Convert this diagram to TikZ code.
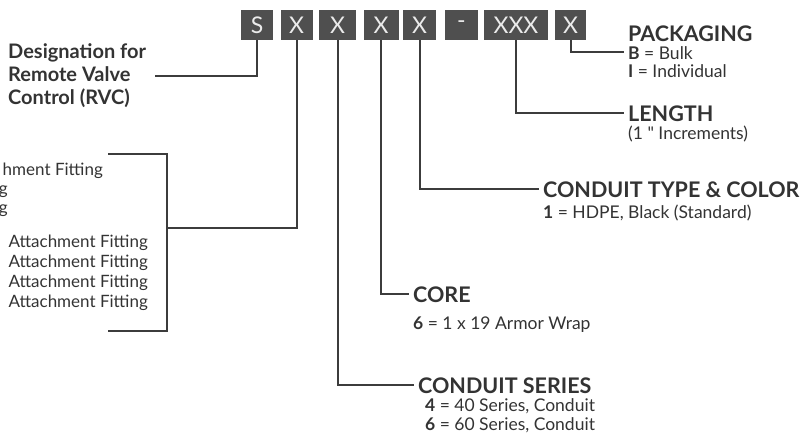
\documentclass[tikz,border=0pt]{standalone}
\usepackage{fontspec}
\setmainfont{Lato}
\definecolor{txt}{HTML}{333333}
\definecolor{linec}{HTML}{3C3C3C}
\definecolor{boxc}{HTML}{4F4F4F}
\definecolor{boxtext}{HTML}{EBEBEB}
\begin{document}
\begin{tikzpicture}[x=1pt,y=-1pt,
  conn/.style={draw=linec, line width=2pt},
  codebox/.style={fill=boxc, minimum height=30pt, inner sep=0pt, text=boxtext, font=\fontsize{23}{23}\selectfont},
  head/.style={anchor=base west, inner sep=0pt, text=txt, font=\fontsize{21.5}{21.5}\selectfont\bfseries},
  body/.style={anchor=base west, inner sep=0pt, text=txt, font=\fontsize{17.5}{17.5}\selectfont},
  lhead/.style={anchor=west, inner sep=0pt, text=txt, align=left, font=\fontsize{20}{23}\selectfont\bfseries},
  lbody/.style={anchor=base east, inner sep=0pt, text=txt, font=\fontsize{17}{17}\selectfont},
]
\useasboundingbox (0,0) rectangle (801,442);
\path[clip] (0,0) rectangle (801,442);
% code boxes
\node[codebox, minimum width=32pt] (bS) at (257,25) {S};
\node[codebox, minimum width=32pt] (b1) at (296.5,25) {X};
\node[codebox, minimum width=37pt] (b2) at (337.5,25) {X};
\node[codebox, minimum width=35pt] (b3) at (381,25) {X};
\node[codebox, minimum width=33pt] (b4) at (419.5,25) {X};
\node[codebox, minimum width=33pt] (bd) at (461.5,25) {-};
\node[codebox, minimum width=64pt] (bl) at (516,25) {XXX};
\node[codebox, minimum width=31pt] (bp) at (570.5,25) {X};
% designation
\node[lhead] (desig) at (8,76) {Designation for\\Remote Valve\\Control (RVC)};
\coordinate (dend) at (155,76);
\draw[conn] (dend) -| (bS.south);
% left list
\node[lbody] (l1) at (103,175) {hment Fitting};
\node[lbody] (l2) at (8,194) {g};
\node[lbody] (l3) at (8,213) {g};
\node[lbody] (l4) at (148,247) {Attachment Fitting};
\node[lbody] (l5) at (148,267) {Attachment Fitting};
\node[lbody] (l6) at (148,287) {Attachment Fitting};
\node[lbody] (l7) at (148,307) {Attachment Fitting};
\coordinate (brt) at (108,154);
\coordinate (brb) at (108,331);
\coordinate (brm) at (167,228);
\draw[conn] (brt) -- (brt -| brm) -- (brb -| brm) -- (brb);
\draw[conn] (b1.south) |- (brm);
% packaging
\node[head] (pk) at (628,41) {PACKAGING};
\node[body] (pk1) at (628,59) {\textbf{B} = Bulk};
\node[body] (pk2) at (628,77) {\textbf{I} = Individual};
\coordinate (pkend) at (624,52);
\draw[conn] (bp.south) |- (pkend);
% length
\node[head] (len) at (628,121) {LENGTH};
\node[body] (len1) at (628,139) {(1 \textquotedbl{} Increments)};
\coordinate (lenend) at (624,113);
\draw[conn] (bl.south) |- (lenend);
% conduit type
\node[head] (ct) at (543,197) {CONDUIT TYPE \& COLOR};
\node[body] (ct1) at (543,218) {\textbf{1} = HDPE, Black (Standard)};
\coordinate (ctend) at (539,189);
\draw[conn] (b4.south) |- (ctend);
% core
\node[head] (core) at (413,302) {CORE};
\node[body] (core1) at (413,329) {\textbf{6} = 1 x 19 Armor Wrap};
\coordinate (coreend) at (409,294);
\draw[conn] (b3.south) |- (coreend);
% conduit series
\node[head] (cs) at (418,393) {CONDUIT SERIES};
\node[body] (cs1) at (425,411) {\textbf{4} = 40 Series, Conduit};
\node[body] (cs2) at (425,430) {\textbf{6} = 60 Series, Conduit};
\coordinate (csend) at (414,385);
\draw[conn] (b2.south) |- (csend);
\end{tikzpicture}
\end{document}
